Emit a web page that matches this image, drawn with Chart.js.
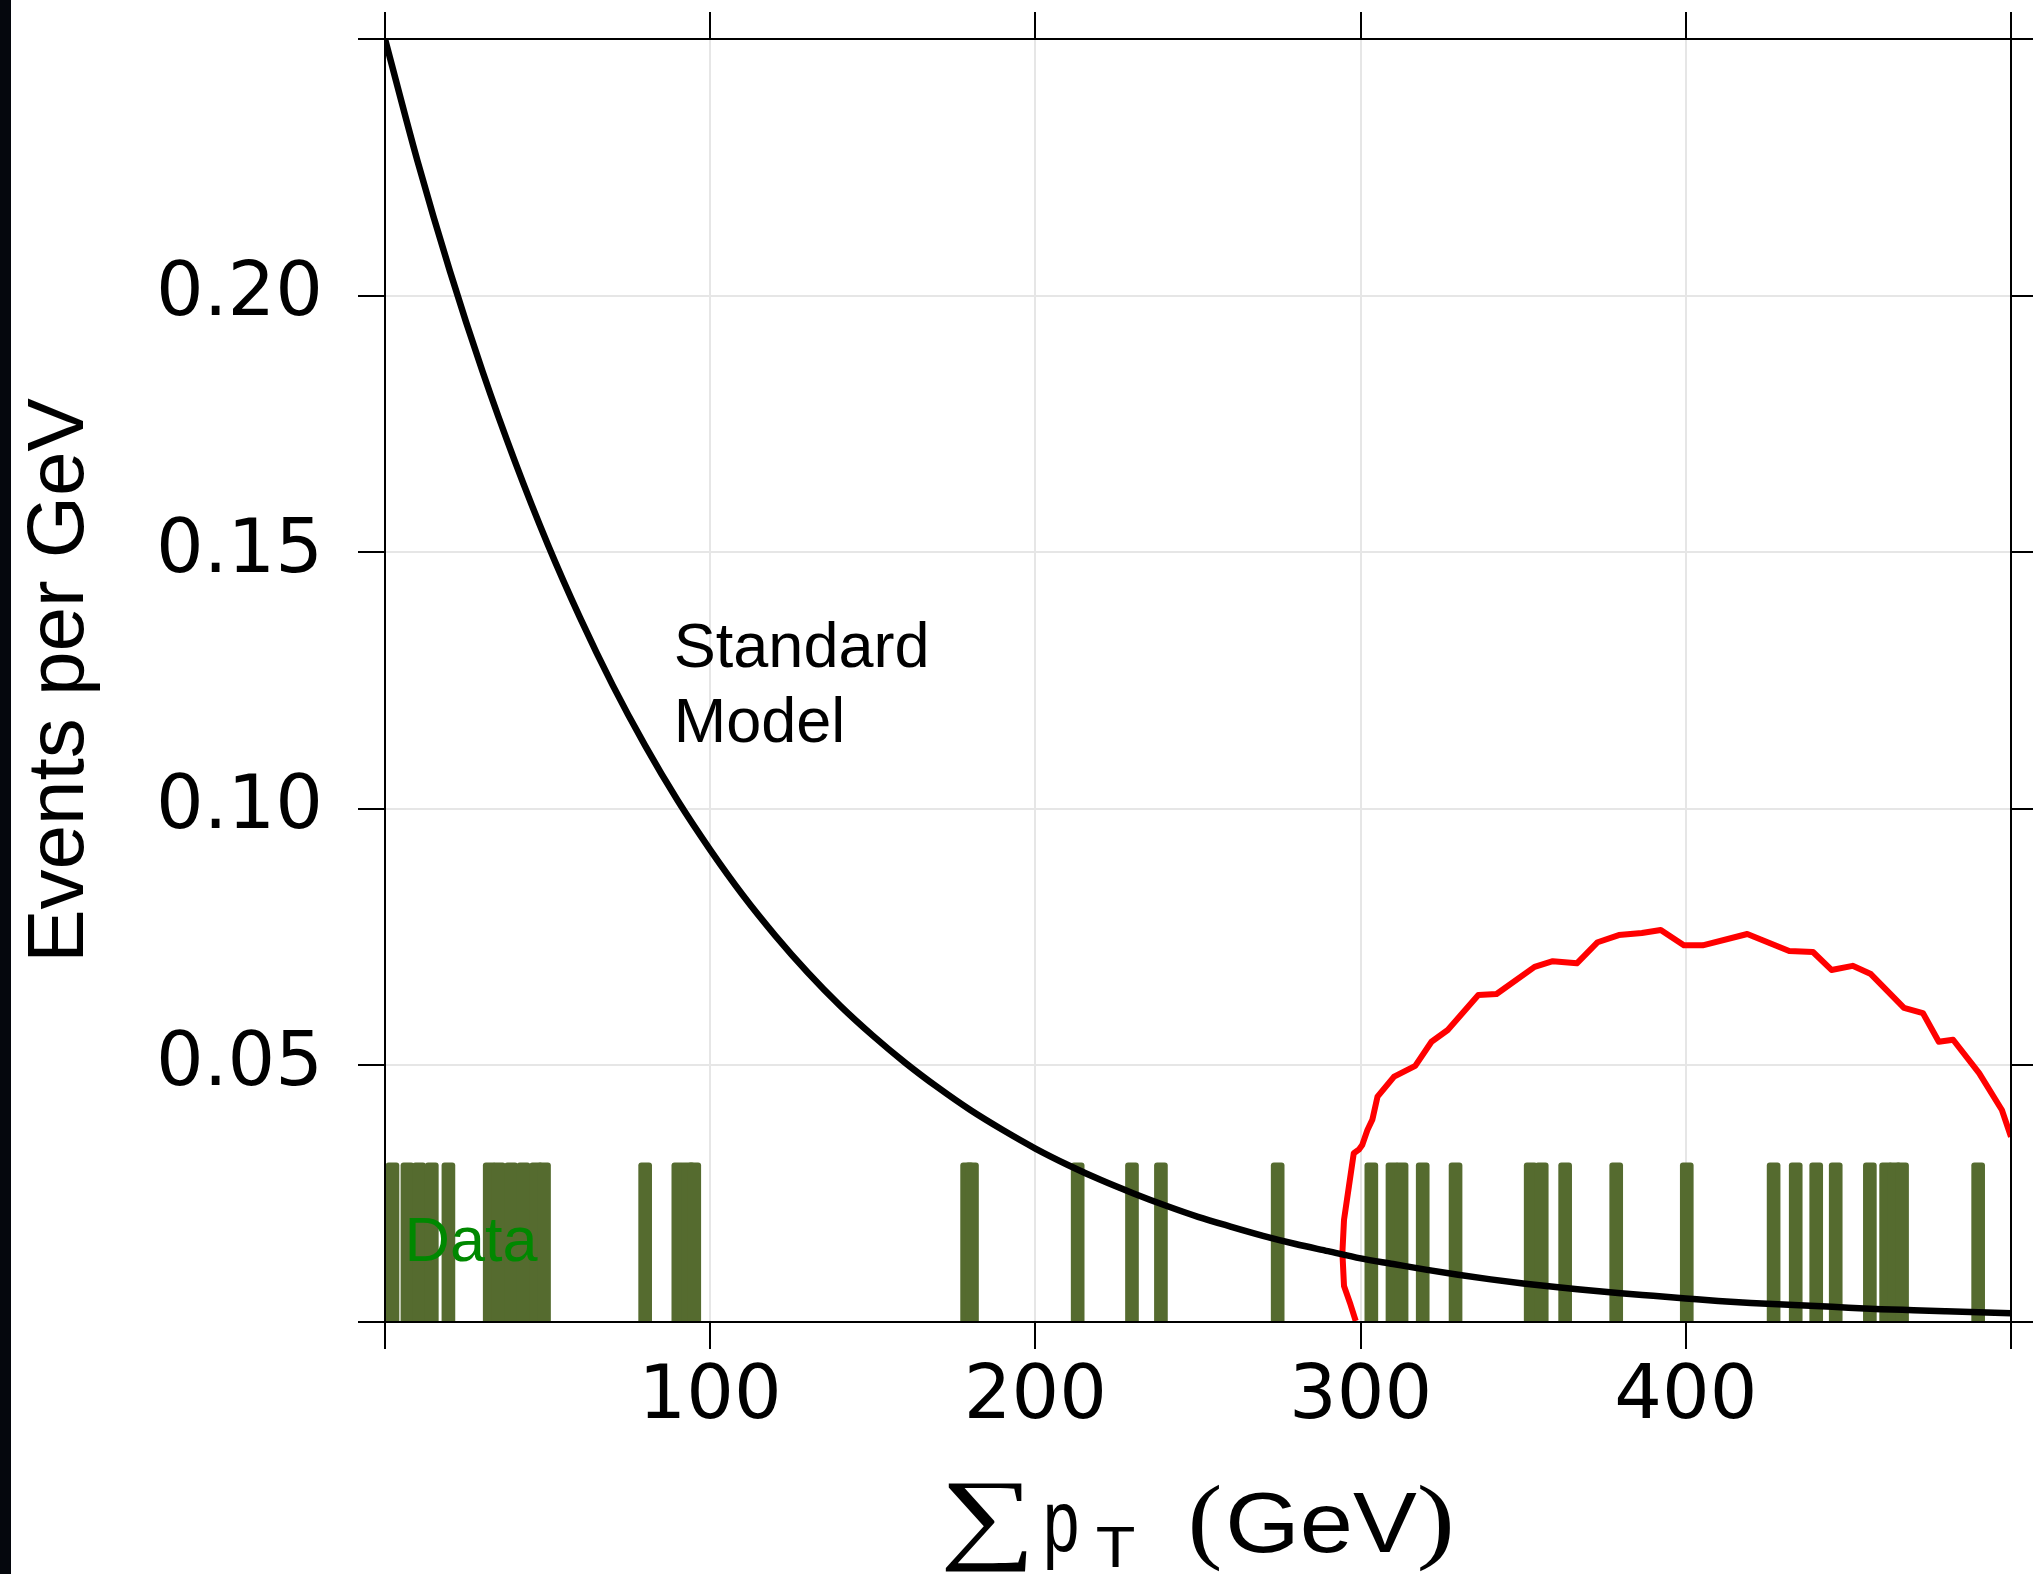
<!DOCTYPE html>
<html>
<head>
<meta charset="utf-8">
<title>Events per GeV</title>
<script src="https://cdn.jsdelivr.net/npm/chart.js@4.4.1/dist/chart.umd.min.js"></script>
<style>
  html, body { margin: 0; padding: 0; background: #fff; overflow: hidden; }
  #wrap { position: relative; width: 2033px; height: 1574px; }
  #edge { position: absolute; left: 0; top: 0; width: 11px; height: 100%; background: #05070d; }
  canvas { display: block; }
</style>
</head>
<body>
<div id="wrap">
  <canvas id="ptChart" width="2033" height="1574"></canvas>
  <div id="edge"></div>
</div>
<script>
// Standard Model expectation, sampled every 10 GeV
const smPt = [0, 10, 20, 30, 40, 50, 60, 70, 80, 90,
    100, 110, 120, 130, 140, 150, 160, 170, 180, 190,
    200, 210, 220, 230, 240, 250, 260, 270, 280, 290,
    300, 310, 320, 330, 340, 350, 360, 370, 380, 390,
    400, 410, 420, 430, 440, 450, 460, 470, 480, 490, 500];
const smRate = [0.2500, 0.2262, 0.2047, 0.1852, 0.1676, 0.1516, 0.1372, 0.1241, 0.1123, 0.1016,
    0.0920, 0.0832, 0.0753, 0.0681, 0.0616, 0.0558, 0.0505, 0.0457, 0.0413, 0.0374,
    0.0338, 0.0306, 0.0277, 0.0251, 0.0227, 0.0205, 0.0186, 0.0168, 0.0152, 0.0138,
    0.0124, 0.0113, 0.0102, 0.0092, 0.0083, 0.0075, 0.0068, 0.0062, 0.0056, 0.0051,
    0.0046, 0.0041, 0.0037, 0.0034, 0.0031, 0.0028, 0.0025, 0.0023, 0.0021, 0.0019, 0.0017];

// New-physics shape (red), traced in drawing order
const sigPt = [298.5, 296.9, 294.9, 294.4, 294.9, 296.4, 297.9, 299.5, 300.5, 302.1,
    303.6, 305.2, 310.3, 316.8, 321.8, 326.8, 336.2, 341.8, 353.5, 359.1,
    366.5, 372.9, 379.4, 386.5, 392.3, 399.4, 405.2, 418.9, 431.8, 439.1,
    444.8, 451.3, 456.9, 467.1, 472.9, 477.8, 482.2, 490.2, 497.2, 500.0];
const sigRate = [0.0002, 0.0034, 0.0070, 0.0135, 0.0199, 0.0264, 0.0329, 0.0336, 0.0345, 0.0374,
    0.0394, 0.0439, 0.0478, 0.0499, 0.0546, 0.0569, 0.0637, 0.0639, 0.0692, 0.0703,
    0.0699, 0.0740, 0.0754, 0.0758, 0.0764, 0.0734, 0.0734, 0.0756, 0.0723, 0.0721,
    0.0686, 0.0694, 0.0678, 0.0612, 0.0602, 0.0546, 0.0550, 0.0485, 0.0413, 0.0361];

// Observed events, one rug mark each
const eventPt = [2.3, 6.9, 10.5, 14.4, 19.5, 32.2, 35.0, 38.8, 42.6, 46.5,
    48.9, 80.0, 90.2, 93.2, 95.1, 179.0, 180.5, 213.0, 229.7, 238.6,
    274.5, 303.3, 309.8, 312.6, 319.1, 329.2, 352.3, 355.7, 362.9, 378.6,
    400.3, 427.0, 433.8, 440.1, 446.1, 456.6, 461.6, 464.2, 466.5, 489.9];
const rugTop = 0.031;

const xTicks = [0, 100, 200, 300, 400, 500];
const xTickLabels = ['', '100', '200', '300', '400', ''];
const yTicks = [0, 0.05, 0.10, 0.15, 0.20, 0.25];
const yTickLabels = ['', '0.05', '0.10', '0.15', '0.20', ''];

const SANS = '"Liberation Sans", Arial, sans-serif';
const SERIF = '"Liberation Serif", "DejaVu Serif", serif';
const tickFont = { family: '"DejaVu Sans", sans-serif', size: 75 };

// one axis; the secondary ones only carry tick marks
function axis(position, main, ticks, labels, size, pad) {
    return {
        type: 'linear',
        position: position,
        min: ticks[0],
        max: ticks[ticks.length - 1],
        offset: false,
        afterBuildTicks: s => { s.ticks = ticks.map(v => ({ value: v })); },
        afterFit: s => {
            if (s.isHorizontal()) s.height = size; else s.width = size;
            s.paddingLeft = s.paddingRight = s.paddingTop = s.paddingBottom = 0;
        },
        grid: {
            offset: false,
            drawOnChartArea: main,
            color: '#e6e6e6',
            lineWidth: 2,
            drawTicks: true,
            tickLength: 27,
            tickColor: '#000',
            tickWidth: 2
        },
        border: { display: true, color: '#000', width: 2, z: 1 },
        ticks: {
            display: main,
            autoSkip: false,
            maxRotation: 0,
            padding: pad,
            color: '#000',
            font: tickFont,
            callback: (v, i) => labels[i]
        }
    };
}

// scale a piece of text into its box [x0, x1, top, bottom]
function fitText(ctx, str, family, box) {
    ctx.font = '100px ' + family;
    const m = ctx.measureText(str);
    const w = m.actualBoundingBoxLeft + m.actualBoundingBoxRight;
    const h = m.actualBoundingBoxAscent + m.actualBoundingBoxDescent;
    ctx.save();
    ctx.translate(box[0], box[2]);
    ctx.scale((box[1] - box[0]) / w, (box[3] - box[2]) / h);
    ctx.fillText(str, m.actualBoundingBoxLeft, m.actualBoundingBoxAscent);
    ctx.restore();
}

// x title: sum p_T (GeV), pieces placed around the plot centre
const xTitleParts = [
    { text: '\u2211', family: SERIF, dx: [-253, -171], dy: [161, 250] },
    { text: 'p', family: SANS, dx: [-151, -121], dy: [181, 248] },
    { text: 'T', family: SANS, dx: [-101, -64], dy: [206, 246] },
    { text: '(', family: SERIF, dx: [-6, 22], dy: [163, 250] },
    { text: 'GeV', family: SANS, dx: [32, 219], dy: [170, 231] },
    { text: ')', family: SERIF, dx: [222, 252], dy: [163, 250] }
];

const labels = {
    id: 'labels',
    afterDatasetsDraw(chart) {
        const { ctx, scales: { x, y } } = chart;
        ctx.save();
        ctx.textAlign = 'left';
        ctx.textBaseline = 'alphabetic';
        ctx.font = '63px ' + SANS;
        ctx.fillStyle = '#000';
        ctx.fillText('Standard', x.getPixelForValue(88.8), y.getPixelForValue(0.1276));
        ctx.fillText('Model', x.getPixelForValue(88.8), y.getPixelForValue(0.1130));
        ctx.fillStyle = '#008800';
        ctx.fillText('Data', x.getPixelForValue(6.0), y.getPixelForValue(0.0118));
        ctx.restore();
    },
    afterDraw(chart) {
        const { ctx, chartArea } = chart;
        const cx = (chartArea.left + chartArea.right) / 2;
        const b = chartArea.bottom;
        ctx.save();
        ctx.fillStyle = '#000';
        ctx.textAlign = 'left';
        ctx.textBaseline = 'alphabetic';
        xTitleParts.forEach(p => {
            fitText(ctx, p.text, p.family, [cx + p.dx[0], cx + p.dx[1], b + p.dy[0], b + p.dy[1]]);
        });
        ctx.restore();
    }
};

const yAxis = axis('left', true, yTicks, yTickLabels, 385, 35);
yAxis.title = {
    display: true,
    text: 'Events per GeV',
    color: '#000',
    font: { family: SANS, size: 80 },
    padding: { top: 13, bottom: 0 }
};

new Chart(document.getElementById('ptChart'), {
    type: 'scatter',
    data: {
        datasets: [
            {
                type: 'line',
                label: 'Standard Model',
                data: smPt.map((v, i) => ({ x: v, y: smRate[i] })),
                borderColor: '#000',
                borderWidth: 6.5,
                pointRadius: 0,
                cubicInterpolationMode: 'monotone',
                fill: false,
                order: 1
            },
            {
                type: 'line',
                label: 'Signal',
                data: sigPt.map((v, i) => ({ x: v, y: sigRate[i] })),
                borderColor: '#ff0000',
                borderWidth: 6,
                borderJoinStyle: 'round',
                pointRadius: 0,
                tension: 0,
                fill: false,
                order: 2
            },
            {
                type: 'bar',
                label: 'Data',
                data: eventPt.map(v => ({ x: v, y: rugTop })),
                backgroundColor: '#556b2f',
                barThickness: 13,
                borderRadius: { topLeft: 3, topRight: 3 },
                order: 3
            }
        ]
    },
    options: {
        responsive: false,
        devicePixelRatio: 1,
        animation: false,
        layout: { padding: 0 },
        plugins: { legend: { display: false }, tooltip: { enabled: false } },
        scales: {
            x: axis('bottom', true, xTicks, xTickLabels, 252, 5),
            x2: axis('top', false, xTicks, xTickLabels, 39, 0),
            y: yAxis,
            y2: axis('right', false, yTicks, yTickLabels, 22, 0)
        }
    },
    plugins: [labels]
});
</script>
</body>
</html>
